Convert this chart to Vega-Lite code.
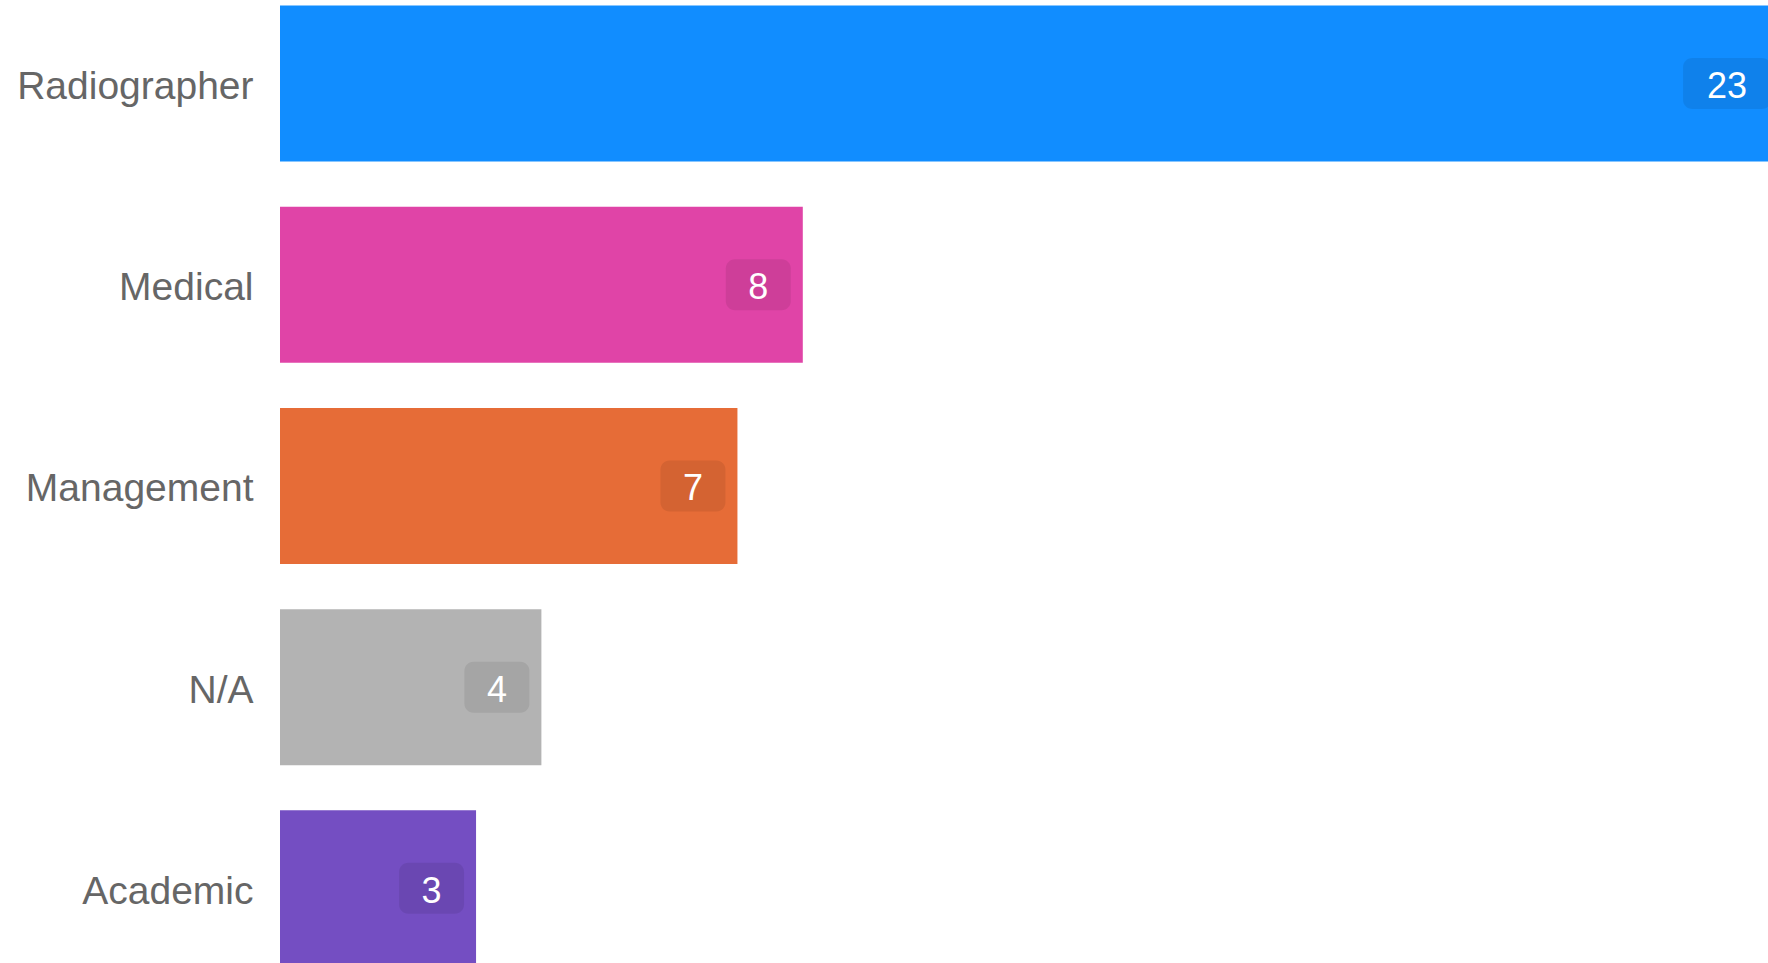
{
  "$schema": "https://vega.github.io/schema/vega-lite/v6.json",
  "width": 1488,
  "height": 963,
  "autosize": {"type": "none"},
  "padding": {"left": 280, "top": 0, "right": 0, "bottom": 0},
  "background": "white",
  "config": {"view": {"stroke": null}, "font": "Liberation Sans"},
  "data": {
    "values": [
      {"role": "Radiographer", "count": 23},
      {"role": "Medical", "count": 8},
      {"role": "Management", "count": 7},
      {"role": "N/A", "count": 4},
      {"role": "Academic", "count": 3}
    ]
  },
  "encoding": {
    "y": {
      "field": "role",
      "type": "nominal",
      "sort": ["Radiographer", "Medical", "Management", "N/A", "Academic"],
      "scale": {"paddingInner": 0.3, "paddingOuter": 0.043, "align": 0.757},
      "axis": {
        "title": null,
        "domain": false,
        "ticks": false,
        "grid": false,
        "labelFont": "Liberation Sans",
        "labelFontSize": 39,
        "labelColor": "#666666",
        "labelPadding": 27,
        "labelOffset": 3.5,
        "labelLimit": 400
      }
    },
    "x": {
      "field": "count",
      "type": "quantitative",
      "scale": {"domain": [0, 22.77], "nice": false, "zero": true},
      "axis": null
    }
  },
  "layer": [
    {
      "mark": {"type": "bar", "height": 156},
      "encoding": {
        "color": {
          "field": "role",
          "type": "nominal",
          "scale": {
            "domain": ["Radiographer", "Medical", "Management", "N/A", "Academic"],
            "range": ["#118DFF", "#E044A7", "#E66C37", "#B3B3B3", "#744EC2"]
          },
          "legend": null
        }
      }
    },
    {
      "transform": [{"filter": "datum.count < 10"}],
      "mark": {"type": "bar", "height": 51, "xOffset": -77, "x2Offset": -12, "cornerRadius": 9, "color": "black", "opacity": 0.08},
      "encoding": {"x2": {"field": "count"}}
    },
    {
      "transform": [{"filter": "datum.count >= 10"}],
      "mark": {"type": "bar", "height": 51, "xOffset": -100, "x2Offset": -12, "cornerRadius": 9, "color": "black", "opacity": 0.08},
      "encoding": {"x2": {"field": "count"}}
    },
    {
      "transform": [{"filter": "datum.count < 10"}],
      "mark": {"type": "text", "align": "center", "baseline": "middle", "xOffset": -44.5, "dy": 3.5, "fontSize": 36, "font": "Liberation Sans", "color": "white"},
      "encoding": {"text": {"field": "count", "type": "quantitative"}}
    },
    {
      "transform": [{"filter": "datum.count >= 10"}],
      "mark": {"type": "text", "align": "center", "baseline": "middle", "xOffset": -56, "dy": 3.5, "fontSize": 36, "font": "Liberation Sans", "color": "white"},
      "encoding": {"text": {"field": "count", "type": "quantitative"}}
    }
  ]
}
